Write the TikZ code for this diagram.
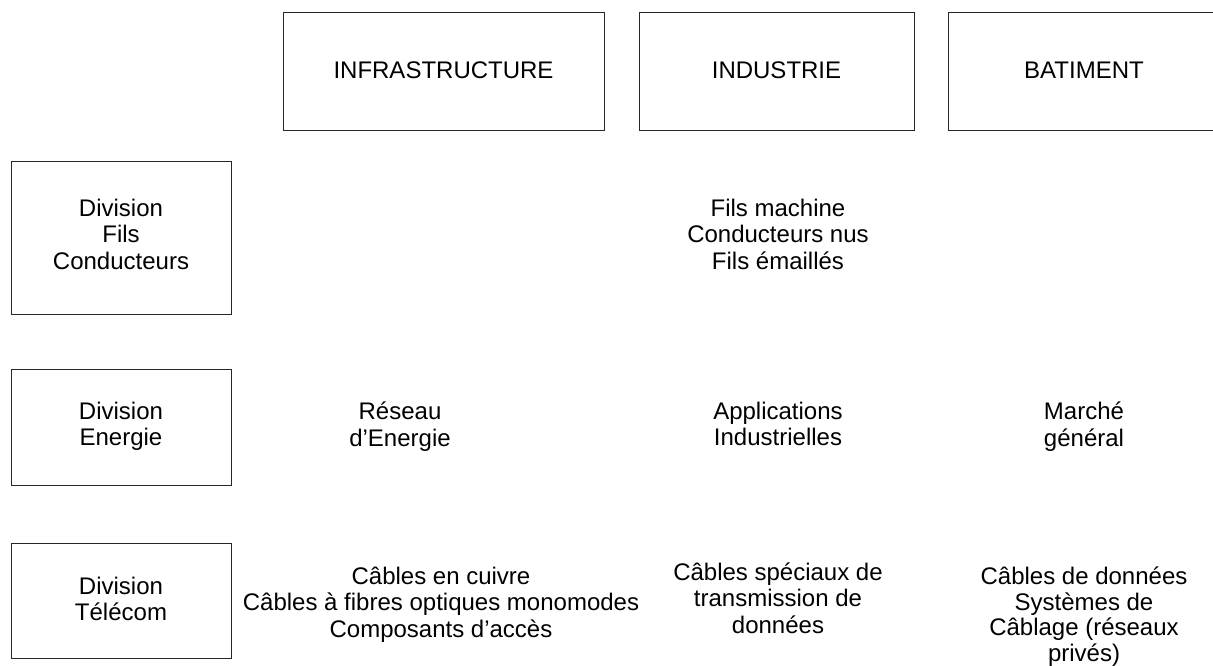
\documentclass[tikz,border=0pt]{standalone}
\usepackage{fontspec}
\setmainfont{Liberation Sans}
\begin{document}
\begin{tikzpicture}[x=1pt,y=-1pt,
  cell/.style={draw=black!85,line width=1.2pt,inner sep=0pt,anchor=north west},
  lbl/.style={align=center,font=\fontsize{24}{26.5}\selectfont,inner sep=0pt,
    execute at begin node=\strut,execute at end node=\strut},
]
\useasboundingbox (0,0) rectangle (1213,666);
\clip (0,0) rectangle (1213,666);
% market columns
\node[cell,minimum width=321pt,minimum height=118pt] (infra) at (283,12) {};
\node[cell,minimum width=275pt,minimum height=118pt] (indus) at (639,12) {};
\node[cell,minimum width=275pt,minimum height=118pt] (bat)   at (948,12) {};
\node[lbl] (tinfra) at (443.5,73) {INFRASTRUCTURE};
\node[lbl] (tindus) at (776.5,73) {INDUSTRIE};
\node[lbl] (tbat)   at (1084,73) {BATIMENT};
% division rows
\node[cell,minimum width=220pt,minimum height=153pt] (fils) at (11,161) {};
\node[cell,minimum width=220pt,minimum height=116pt] (ener) at (11,369) {};
\node[cell,minimum width=220pt,minimum height=115pt] (tele) at (11,543) {};
\node[lbl] (tfils) at (121,238) {Division\\Fils\\Conducteurs};
\node[lbl] (tener) at (121,428) {Division\\Energie};
\node[lbl] (ttele) at (121,603) {Division\\Télécom};
% products
\node[lbl] (p1) at (778,238) {Fils machine\\Conducteurs nus\\Fils émaillés};
\node[lbl] (p2) at (400,428) {Réseau\\d’Energie};
\node[lbl] (p3) at (778,428) {Applications\\Industrielles};
\node[lbl] (p4) at (1084,428) {Marché\\général};
\node[lbl] (p5) at (441,606) {Câbles en cuivre\\Câbles à fibres optiques monomodes\\Composants d’accès};
\node[lbl] (p6) at (778,602) {Câbles spéciaux de\\transmission de\\données};
\node[lbl,font=\fontsize{24}{25.8}\selectfont] (p7) at (1084,618) {Câbles de données\\Systèmes de\\Câblage (réseaux\\privés)};
\end{tikzpicture}
\end{document}
